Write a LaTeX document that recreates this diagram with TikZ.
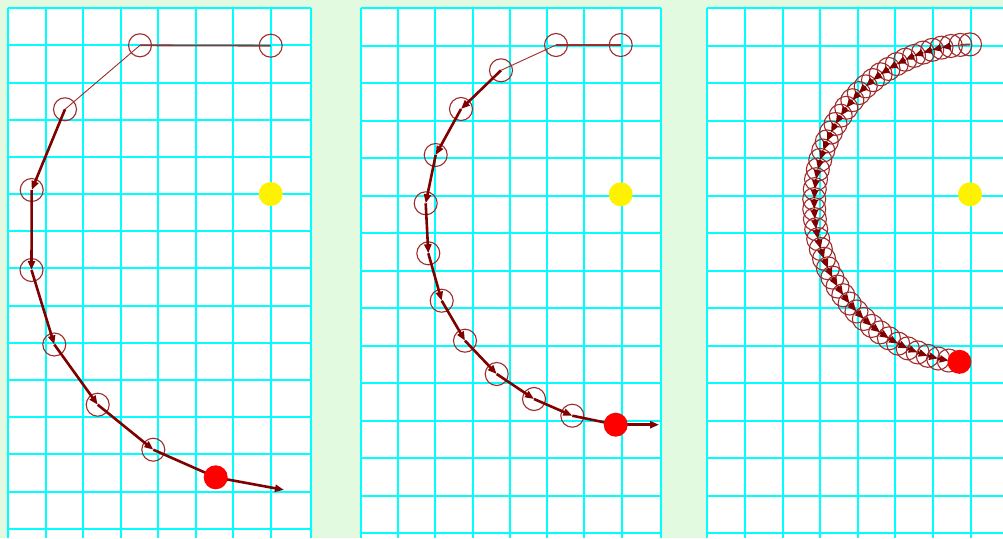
\documentclass[tikz,border=0pt]{standalone}
\usetikzlibrary{arrows.meta}
\definecolor{bggreen}{RGB}{226,250,224}
\definecolor{gridc}{RGB}{0,255,255}
\definecolor{orbc}{RGB}{158,44,44}
\definecolor{pathc}{RGB}{128,0,0}
\begin{document}
\begin{tikzpicture}[x=1pt,y=-1pt,
  orb/.style={circle,draw=orbc,line width=1.1pt,minimum size=23pt,inner sep=0pt},
  sun/.style={circle,fill=yellow,minimum size=24pt,inner sep=0pt},
  body/.style={circle,fill=red,minimum size=24pt,inner sep=0pt},
  trail/.style={draw=orbc,line width=1.8pt},
  trailthin/.style={draw=orbc,line width=0.9pt},
  stepline/.style={draw=pathc,line width=2.6pt,-{Triangle[length=9pt,width=7pt]}},
  gridline/.style={draw=gridc,line width=1.8pt},
  panel/.style={fill=white}]
\useasboundingbox (0,0) rectangle (1003,538);
\fill[bggreen] (0,0) rectangle (1003,538);

% ---------- panel grids ----------
\fill[panel] (8,8) rectangle (311,538);
\foreach \k in {0,...,7} \draw[gridline] ({round(8.3+37.5*\k)},8) -- ({round(8.3+37.5*\k)},538);
\draw[gridline] (311,8) -- (311,538);
\foreach \k in {0,...,14} \draw[gridline] (8,{round(8.3+37.17*\k)}) -- (311,{round(8.3+37.17*\k)});

\fill[panel] (361,8) rectangle (661,538);
\foreach \k in {0,...,7} \draw[gridline] ({round(360.7+37.29*\k)},8) -- ({round(360.7+37.29*\k)},538);
\draw[gridline] (661,8) -- (661,538);
\foreach \k in {0,...,14} \draw[gridline] (361,{round(8.3+37.48*\k)}) -- (661,{round(8.3+37.48*\k)});

\fill[panel] (707,8) rectangle (1003,538);
\foreach \k in {0,...,7} \draw[gridline] ({round(707.3+37.6*\k)},8) -- ({round(707.3+37.6*\k)},538);
\foreach \k in {0,...,14} \draw[gridline] (707,{round(8.3+37.48*\k)}) -- (1003,{round(8.3+37.48*\k)});

% ---------- panel 1 ----------
\node[sun] (s1) at (270.7,194) {};
\node[orb] (a0) at (270.7,45.7) {};
\node[orb] (a1) at (140,45.3) {};
\node[orb] (a2) at (65,109.3) {};
\node[orb] (a3) at (31.7,190) {};
\node[orb] (a4) at (31.5,270) {};
\node[orb] (a5) at (54.3,344.5) {};
\node[orb] (a6) at (97.7,404.7) {};
\node[orb] (a7) at (153.3,449.7) {};
\coordinate (r1pos) at (215.7,477.3);
\coordinate (v1) at (284,489.9);
\draw[trail] (a0.center) -- (a1.center);
\draw[trailthin] (a1.center) -- (a2.center);
\draw[stepline] (a2.center) -- (a3.center);
\draw[stepline] (a3.center) -- (a4.center);
\draw[stepline] (a4.center) -- (a5.center);
\draw[stepline] (a5.center) -- (a6.center);
\draw[stepline] (a6.center) -- (a7.center);
\draw[stepline] (a7.center) -- (r1pos);
\draw[stepline] (r1pos) -- (v1);
\node[body] (r1) at (r1pos) {};

% ---------- panel 2 ----------
\node[sun] (s2) at (620.7,194.3) {};
\node[orb] (b0) at (620.7,45) {};
\node[orb] (b1) at (556,45) {};
\node[orb] (b2) at (501,70.3) {};
\node[orb] (b3) at (461,109) {};
\node[orb] (b4) at (435.7,155) {};
\node[orb] (b5) at (425.7,203.3) {};
\node[orb] (b6) at (428.3,253.3) {};
\node[orb] (b7) at (441.7,300.7) {};
\node[orb] (b8) at (465,340.7) {};
\node[orb] (b9) at (496.7,374) {};
\node[orb] (b10) at (534,399) {};
\node[orb] (b11) at (572.3,415.7) {};
\coordinate (r2pos) at (615.7,424.7);
\coordinate (v2) at (659,424.7);
\draw[trail] (b0.center) -- (b1.center);
\draw[trailthin] (b1.center) -- (b2.center);
\foreach \i [evaluate=\i as \j using int(\i+1)] in {2,...,10}
  \draw[stepline] (b\i.center) -- (b\j.center);
\draw[stepline] (b11.center) -- (r2pos);
\draw[stepline] (r2pos) -- (v2);
\node[body] (r2) at (r2pos) {};

% ---------- panel 3 ----------
\node[sun] (s3) at (970,194.3) {};
\foreach \i in {0,...,47}{
  \pgfmathsetmacro{\th}{90+3.675*\i}
  \pgfmathsetmacro{\rr}{159-10*cos(\th-110)}
  \node[orb] (c\i) at ({970+\rr*cos(\th)},{194-\rr*sin(\th)}) {};
}
\pgfmathsetmacro{\thend}{90+3.675*48}
\pgfmathsetmacro{\rrend}{159-10*cos(\thend-110)}
\coordinate (r3pos) at ({970+\rrend*cos(\thend)},{194-\rrend*sin(\thend)});
\draw[trail] (c0.center) -- (c1.center);
\draw[trailthin] (c1.center) -- (c2.center);
\foreach \i [evaluate=\i as \j using int(\i+1)] in {2,...,46}
  \draw[stepline] (c\i.center) -- (c\j.center);
\draw[stepline] (c47.center) -- (r3pos);
\node[body] (r3) at (r3pos) {};
\end{tikzpicture}
\end{document}
